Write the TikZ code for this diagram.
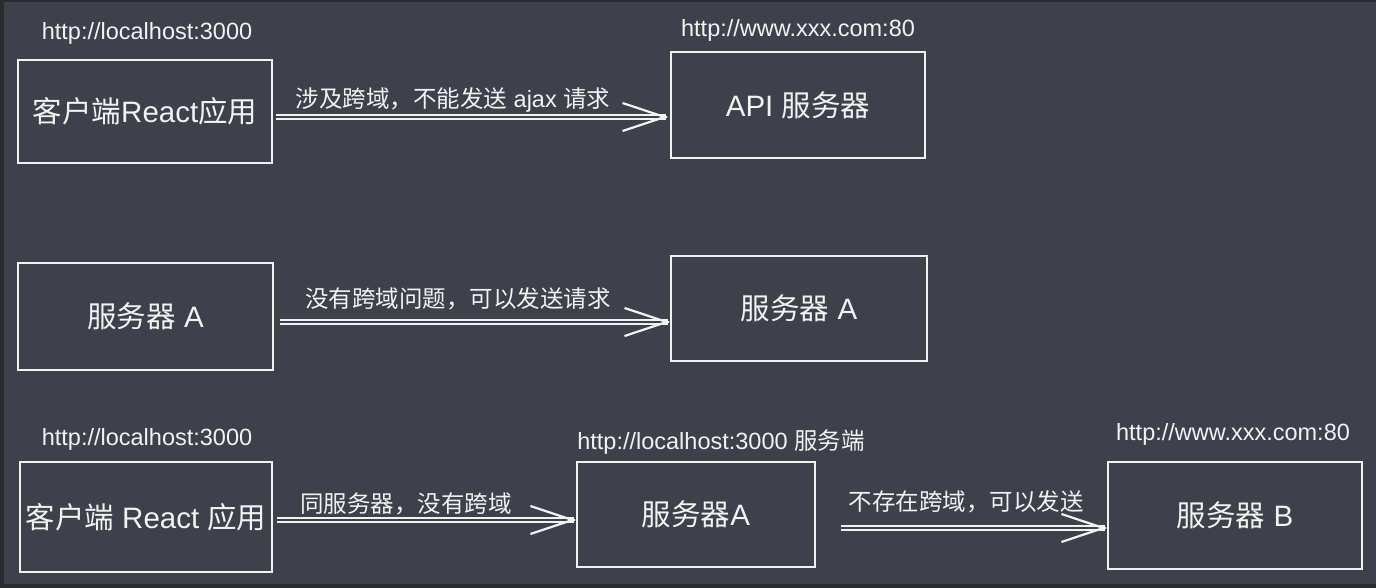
\documentclass[tikz,border=0pt]{standalone}
\usepackage{fontspec}
\setmainfont{Liberation Sans}
\newfontfamily\cjk{Noto Sans CJK SC}
\usetikzlibrary{arrows.meta}
\definecolor{bgdark}{HTML}{2B2C30}
\definecolor{bgboard}{HTML}{3E414A}
\definecolor{chalk}{HTML}{F2F2F2}
\newcommand{\boxfont}{\fontsize{29.5}{32}\selectfont}
\newcommand{\lblfont}{\fontsize{23.5}{26}\selectfont}

\begin{document}
\begin{tikzpicture}[x=1pt,y=-1pt]
      \tikzset{every node/.style={inner sep=0pt, text=chalk},
        sketchbox/.style={draw=chalk, line width=2.2pt, font=\boxfont},
        url/.style={font=\lblfont},
        lbl/.style={font=\lblfont},
        link/.style={draw=chalk, line width=1.3pt, double=bgboard, double distance=2.5pt, shorten >=2pt},
        linkhead/.style={draw=chalk, line width=2.2pt,
          -{Straight Barb[length=42pt, width=28pt]}}}
      % board
      \fill [bgdark] (0,0) rectangle (1376,588);
      \fill [bgboard] (4,2) rectangle (1376,584);
      \useasboundingbox (0,0) rectangle (1376,588);
      % row 1
      \node [url] (url1) at (147,33) {http://localhost:3000};
      \node [sketchbox, minimum width=254pt, minimum height=103pt] (clt1) at (145,111.5) {{\cjk 客户端}React{\cjk 应用}};
      \node [url] (url2) at (798,30) {http://www.xxx.com:80};
      \node [sketchbox, minimum width=254pt, minimum height=106pt] (api) at (798,105) {API {\cjk 服务器}};
      \coordinate (a1s) at (276,117);
      \coordinate (a1e) at (668,117);
      \draw [link] (a1s) -- (a1e);
      \draw [linkhead] ([xshift=-1pt]a1e) -- (a1e);
      \node [lbl] (lbl1) at (453,100) {{\cjk 涉及跨域，不能发送} ajax {\cjk 请求}};
      % row 2
      \node [sketchbox, minimum width=255pt, minimum height=107pt] (srv1) at (145.5,316.5) {{\cjk 服务器} A};
      \node [sketchbox, minimum width=256pt, minimum height=105pt] (srv2) at (799,308.5) {{\cjk 服务器} A};
      \coordinate (a2s) at (280,322);
      \coordinate (a2e) at (670,322);
      \draw [link] (a2s) -- (a2e);
      \draw [linkhead] ([xshift=-1pt]a2e) -- (a2e);
      \node [lbl] (lbl2) at (458,299) {\cjk 没有跨域问题，可以发送请求};
      % row 3
      \node [url] (url3) at (147,439) {http://localhost:3000};
      \node [sketchbox, minimum width=252pt, minimum height=110pt] (clt2) at (146,517) {{\cjk 客户端} React {\cjk 应用}};
      \node [url] (url4) at (721,442) {http://localhost:3000 {\cjk 服务端}};
      \node [sketchbox, minimum width=238pt, minimum height=105pt] (proxy) at (696,514.5) {{\cjk 服务器}A};
      \node [url] (url5) at (1233,434) {http://www.xxx.com:80};
      \node [sketchbox, minimum width=254pt, minimum height=107pt] (srvB) at (1235,515.5) {{\cjk 服务器} B};
      \coordinate (a3e) at (proxy.west |- 0,520);
      \coordinate (a4e) at (srvB.west |- 0,528);
      \draw [link] (clt2.east |- 0,520) ++(4,0) -- (a3e);
      \draw [linkhead] ([xshift=-1pt]a3e) -- (a3e);
      \draw [link] (proxy.east |- 0,528) ++(25,0) -- (a4e);
      \draw [linkhead] ([xshift=-1pt]a4e) -- (a4e);
      \node [lbl] (lbl3) at (406,504) {\cjk 同服务器，没有跨域};
      \node [lbl] (lbl4) at (966,502) {\cjk 不存在跨域，可以发送};
    \end{tikzpicture}
\end{document}
